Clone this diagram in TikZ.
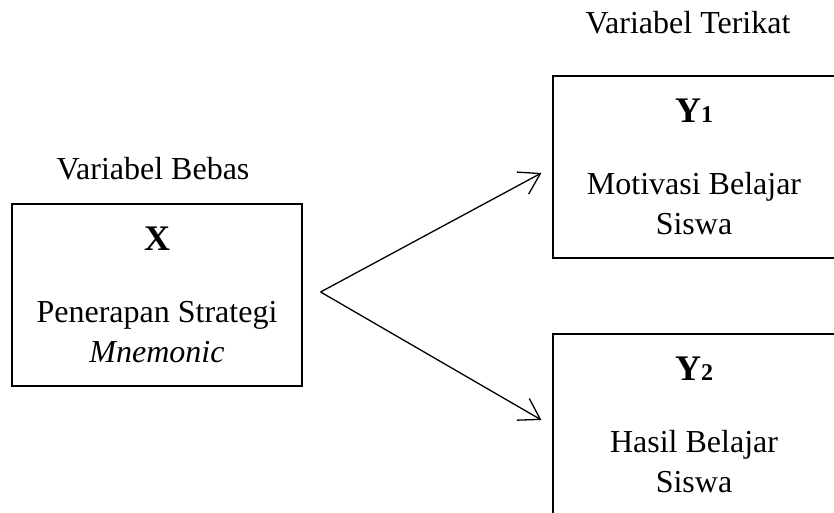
\documentclass[tikz,border=0pt]{standalone}
\usepackage{fontspec}
\setmainfont{Liberation Serif}
\usepackage{tikz}
\usetikzlibrary{positioning, arrows.meta}
\tikzstyle{varbox} = [rectangle,
					  minimum height=182pt,
					  inner sep=0pt,
					  line width=1.2pt,
					  draw=black,
					 ]
\tikzstyle{vartitle} = [anchor=base,
					    font=\fontsize{32}{40}\selectfont,
					   ]
\tikzstyle{boxhead} = [inner sep=0pt,
					   font=\fontsize{36}{40}\selectfont\bfseries,
					  ]
\tikzstyle{boxtext} = [inner sep=0pt,
					   font=\fontsize{32}{40}\selectfont,
					  ]
\tikzstyle{arrow} = [line width=1.3pt,-{Straight Barb[length=20pt,width=25pt,line width=1.3pt]}]
\newcommand{\idx}[1]{{\fontsize{24}{24}\selectfont #1}}

\begin{document}
\begin{tikzpicture}[x=1pt,y=1pt]
\useasboundingbox (0,0) rectangle (834,-512);
\clip (0,0) rectangle (834,-512);

\node (x) [varbox, minimum width=290pt] at (157,-295) {};
\node (y1) [varbox, minimum width=282pt] at (694,-167) {};
\node (y2) [varbox, minimum width=282pt] at (694,-425) {};

\node (x_title) [vartitle] at (153,-179) {Variabel Bebas};
\node (y_title) [vartitle] at (688,-33) {Variabel Terikat};

\node (x_head) [boxhead, below=47pt of x.north, anchor=base] {X};
\node (x_txt1) [boxtext, below=72pt of x_head.base, anchor=base] {Penerapan Strategi};
\node (x_txt2) [boxtext, below=40pt of x_txt1.base, anchor=base] {\textit{Mnemonic}};

\node (y1_head) [boxhead, below=47pt of y1.north, anchor=base] {Y\idx{1}};
\node (y1_txt1) [boxtext, below=72pt of y1_head.base, anchor=base] {Motivasi Belajar};
\node (y1_txt2) [boxtext, below=40pt of y1_txt1.base, anchor=base] {Siswa};

\node (y2_head) [boxhead, below=47pt of y2.north, anchor=base] {Y\idx{2}};
\node (y2_txt1) [boxtext, below=72pt of y2_head.base, anchor=base] {Hasil Belajar};
\node (y2_txt2) [boxtext, below=40pt of y2_txt1.base, anchor=base] {Siswa};

\coordinate (fork) at ([xshift=18pt,yshift=3pt]x.east);

\draw [arrow] (fork) -- ([xshift=-11pt,yshift=-6pt]y1.west);
\draw [arrow] (fork) -- ([xshift=-11pt,yshift=5pt]y2.west);

\end{tikzpicture}
\end{document}
